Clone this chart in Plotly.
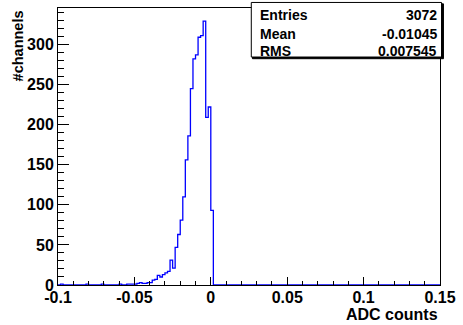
import numpy as np
import plotly.graph_objects as go

# Histogram definition (ROOT-style TH1: 150 bins from -0.1 to 0.15)
x_min = -0.1
x_max = 0.15
n_bins = 150

# Non-zero bin contents: bin index -> entries
bin_index = [1, 11, 17, 24, 27, 28, 29, 30, 31, 32, 33, 34, 35, 36, 37, 38, 39,
             40, 41, 42, 43, 44, 45, 46, 47, 48, 49, 50, 51, 52, 53, 54, 55,
             56, 57, 58, 59, 60]
bin_count = [1, 1, 1, 1, 1, 1, 1, 1, 2, 3, 2, 2, 3, 3, 6, 7, 12,
             10, 13, 15, 17, 31, 21, 47, 63, 81, 110, 156, 186, 245, 282, 287, 309,
             311, 329, 209, 222, 93]

stats_labels = ["Entries", "Mean", "RMS"]
stats_values = ["3072", "-0.01045", "0.007545"]

x_ticks = [-0.1, -0.05, 0, 0.05, 0.1, 0.15]
x_tick_text = ["-0.1", "-0.05", "0", "0.05", "0.1", "0.15"]
y_ticks = [0, 50, 100, 150, 200, 250, 300]

x_title = "ADC counts"
y_title = "#channels"

# ---- build step outline ----
edges = np.linspace(x_min, x_max, n_bins + 1)
counts = np.zeros(n_bins)
counts[np.array(bin_index)] = bin_count
sx = np.repeat(edges, 2)
sy = np.concatenate([[0], np.repeat(counts, 2), [0]])

y_max = counts.max() * 1.05

FONT = "Liberation Sans"
fig = go.Figure()
fig.add_trace(go.Scatter(x=sx, y=sy, mode="lines",
                         line=dict(color="#0000ff", width=1.3),
                         hoverinfo="skip", showlegend=False))

fig.update_layout(
    width=463, height=325,
    margin=dict(l=58, r=16, t=7, b=40),
    paper_bgcolor="white", plot_bgcolor="white",
    showlegend=False,
)
fig.update_xaxes(
    range=[x_min, x_max], tickvals=x_ticks, ticktext=x_tick_text,
    ticks="inside", ticklen=8, tickcolor="black", tickwidth=1,
    minor=dict(dtick=0.01, tick0=0, ticks="inside", ticklen=4, tickcolor="black", tickwidth=1),
    showline=True, linecolor="black", linewidth=1, mirror=True,
    showgrid=False, zeroline=False, ticklabelstandoff=-2,
    tickfont=dict(family=FONT, size=16, color="black", weight="bold"),
)
fig.update_yaxes(
    range=[0, y_max], tickvals=y_ticks,
    ticks="inside", ticklen=11, tickcolor="black", tickwidth=1,
    minor=dict(dtick=10, tick0=0, ticks="inside", ticklen=6, tickcolor="black", tickwidth=1),
    showline=True, linecolor="black", linewidth=1, mirror=True,
    showgrid=False, zeroline=False,
    tickfont=dict(family=FONT, size=16, color="black", weight="bold"),
)

annotations = [
    dict(text="<b>%s</b>" % x_title, xref="paper", yref="paper", x=1.0, y=-0.107,
         xanchor="right", yanchor="middle", showarrow=False,
         font=dict(family=FONT, size=16, color="black")),
    dict(text="<b>%s</b>" % y_title, xref="paper", yref="paper", x=-0.105, y=1.0,
         xanchor="center", yanchor="top", textangle=-90, showarrow=False,
         font=dict(family=FONT, size=14.5, color="black")),
]
row_y = [0.973, 0.907, 0.844]
for lab, val, yy in zip(stats_labels, stats_values, row_y):
    annotations.append(dict(text="<b>%s</b>" % lab, xref="paper", yref="paper",
                            x=0.524, y=yy, xanchor="left", yanchor="middle",
                            showarrow=False, font=dict(family=FONT, size=14, color="black")))
    annotations.append(dict(text="<b>%s</b>" % val, xref="paper", yref="paper",
                            x=0.997, y=yy, xanchor="right", yanchor="middle",
                            showarrow=False, font=dict(family=FONT, size=14, color="black")))
fig.update_layout(annotations=annotations)

# stats box with shadow
fig.add_shape(type="rect", xref="paper", yref="paper", x0=0.509, x1=1.009, y0=0.817, y1=1.015,
              line=dict(color="black", width=1), fillcolor="black", layer="above")
fig.add_shape(type="rect", xref="paper", yref="paper", x0=0.506, x1=1.004, y0=0.823, y1=1.02,
              line=dict(color="black", width=1), fillcolor="white", layer="above")

fig.write_html("out.html")
